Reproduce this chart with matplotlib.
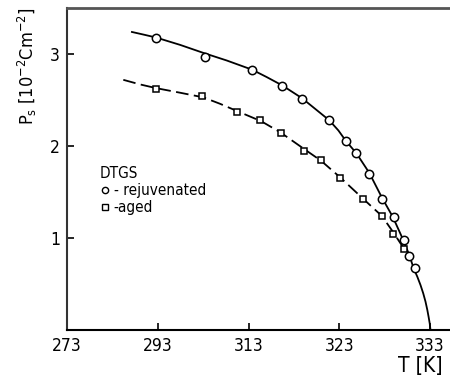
import numpy as np
import matplotlib
matplotlib.use('Agg')
import matplotlib.pyplot as plt
from matplotlib.lines import Line2D

plt.rcParams['font.family'] = ['DejaVu Sans']
plt.rcParams['font.stretch'] = 'condensed'

# tick values printed on the T axis (drawn evenly spaced)
t_ticks = [273, 293, 313, 323, 333]
p_ticks = [1, 2, 3]

# DTGS rejuvenated
t_rej = [292.6, 303.3, 313.4, 316.7, 318.9, 321.9, 323.7, 324.8, 326.3, 327.7, 329.0, 330.1, 330.7, 331.3]
p_rej = [3.17, 2.97, 2.83, 2.65, 2.51, 2.28, 2.05, 1.93, 1.70, 1.43, 1.23, 0.98, 0.81, 0.67]

# DTGS aged
t_aged = [292.6, 302.8, 310.4, 314.3, 316.6, 319.1, 321.0, 323.1, 325.6, 327.7, 328.9, 330.1]
p_aged = [2.62, 2.54, 2.37, 2.28, 2.14, 1.95, 1.85, 1.65, 1.42, 1.24, 1.05, 0.88]

# fitted curves
t_fit_rej = [287.3, 290.0, 292.6, 297.9, 303.2, 308.2, 313.4, 315.0, 316.7, 318.9, 320.4,
             321.9, 322.9, 323.7, 324.9, 326.3, 327.7, 328.9, 330.0, 330.7, 331.2,
             331.6, 331.95, 332.25, 332.5, 332.7, 332.85, 332.97, 333.05]
p_fit_rej = [3.24, 3.21, 3.18, 3.10, 3.01, 2.93, 2.83, 2.75, 2.66, 2.52, 2.40,
             2.28, 2.17, 2.06, 1.92, 1.71, 1.44, 1.23, 0.99, 0.82, 0.67,
             0.58, 0.49, 0.40, 0.31, 0.22, 0.14, 0.07, 0.0]
t_fit_aged = [285.4, 289.1, 292.6, 297.9, 303.0, 306.7, 310.5, 314.4, 316.5, 319.1,
              321.0, 323.1, 325.6, 327.7, 328.9, 330.1, 330.6]
p_fit_aged = [2.72, 2.67, 2.63, 2.58, 2.53, 2.46, 2.38, 2.27, 2.15, 1.97,
              1.84, 1.66, 1.43, 1.24, 1.07, 0.89, 0.83]

tk = np.array(t_ticks, float)
idx = np.arange(len(tk), dtype=float)


def fwd(t):
    t = np.asarray(t, float)
    lo = (t - tk[0]) / (tk[1] - tk[0])
    hi = idx[-1] + (t - tk[-1]) / (tk[-1] - tk[-2])
    return np.where(t < tk[0], lo, np.where(t > tk[-1], hi, np.interp(t, tk, idx)))


def inv(x):
    x = np.asarray(x, float)
    lo = tk[0] + x * (tk[1] - tk[0])
    hi = tk[-1] + (x - idx[-1]) * (tk[-1] - tk[-2])
    return np.where(x < 0, lo, np.where(x > idx[-1], hi, np.interp(x, idx, tk)))


fig = plt.figure(figsize=(4.5, 3.83), dpi=100)
ax = fig.add_axes([0.149, 0.138, 0.851, 0.841])
ax.set_xscale('function', functions=(fwd, inv))

ax.plot(t_fit_rej, p_fit_rej, color='black', lw=1.3, solid_joinstyle='round')
ax.plot(t_fit_aged, p_fit_aged, color='black', lw=1.3, dashes=(7, 3))
ax.plot(t_rej, p_rej, ls='none', marker='o', ms=6, mfc='white', mec='black', mew=1.1)
ax.plot(t_aged, p_aged, ls='none', marker='s', ms=5, mfc='white', mec='black', mew=1.1)

ax.set_xlim(273, 335.2)
ax.set_ylim(0, 3.5)
ax.set_xticks(t_ticks)
ax.set_xticklabels([str(t) for t in t_ticks])
ax.xaxis.set_minor_locator(matplotlib.ticker.NullLocator())
ax.set_yticks(p_ticks)
ax.tick_params(direction='in', length=5, width=1.2, labelsize=12.5, pad=5, color='black')

ax.spines['right'].set_visible(False)
ax.spines['top'].set_color('#555555')
ax.spines['top'].set_linewidth(2)
ax.spines['left'].set_color('#333333')
ax.spines['left'].set_linewidth(1.5)
ax.spines['bottom'].set_linewidth(1.5)

fig.text(27 / 450, 1 - 66 / 383, r'P$_\mathregular{s}$ [10$^\mathregular{-2}$Cm$^\mathregular{-2}$]',
         rotation=90, ha='center', va='center', fontsize=13)
fig.text(420 / 450, 1 - 366 / 383, 'T [K]', ha='center', va='center', fontsize=15)

h1 = Line2D([], [], ls='none', marker='o', ms=4.5, mfc='white', mec='black', mew=1)
h2 = Line2D([], [], ls='none', marker='s', ms=4, mfc='white', mec='black', mew=1)
leg = ax.legend([h1, h2], ['- rejuvenated', '-aged'], title='DTGS', loc='upper left',
                bbox_to_anchor=(0.086, 0.51), frameon=False, fontsize=11, title_fontsize=11,
                handlelength=0.6, handletextpad=0.3, labelspacing=0.15, alignment='left',
                borderaxespad=0, borderpad=0)

fig.savefig('out.png', dpi=100)
